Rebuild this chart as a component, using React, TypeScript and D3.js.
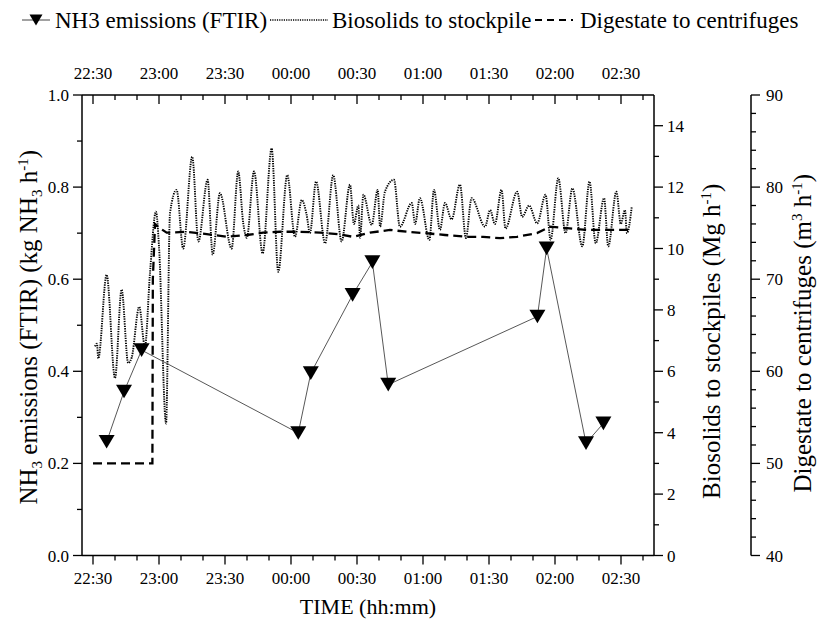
import React from "react";
import * as d3 from "d3";

// Times are minutes after 22:00
const nh3Times = [36.2, 44.1, 52.1, 123.3, 129.0, 148.0, 157.0, 164.2, 232.0, 236.2, 254.1, 262.0];
const nh3Values = [0.247, 0.356, 0.446, 0.266, 0.396, 0.566, 0.637, 0.371, 0.519, 0.667, 0.244, 0.287];

const bioTimes = [
  30.9, 31.8, 32.4, 36.2, 40.0, 43.0, 46.0, 47.6, 51.0, 53.6, 55.9, 58.6, 60.0, 63.2, 65.0, 68.0,
  71.0, 75.1, 77.9, 82.1, 84.4, 87.7, 93.0, 96.0, 98.3, 99.9, 103.2, 107.1, 111.2, 114.2, 118.3,
  121.8, 124.9, 127.1, 128.6, 131.4, 135.5, 139.2, 143.0, 146.8, 148.6, 150.6, 151.4, 152.9, 156.7,
  159.4, 160.5, 162.7, 166.8, 169.5, 174.9, 176.4, 178.6, 182.9, 185.0, 187.7, 190.0, 193.0, 196.8,
  199.5, 202.1, 208.2, 210.5, 212.7, 215.7, 217.5, 222.8, 225.1, 228.2, 231.9, 235.7, 238.0, 241.5,
  244.8, 247.9, 252.4, 255.7, 258.5, 262.3, 264.2, 267.9, 269.9, 271.8, 272.7, 274.9,
];
const bioValues = [
  6.81, 6.9, 6.42, 9.14, 5.78, 8.66, 6.27, 6.45, 8.1, 6.81, 9.2, 11.2, 10.07, 4.3, 11.15, 11.91,
  10.0, 12.99, 10.23, 12.24, 9.8, 11.8, 10.0, 12.51, 10.82, 10.35, 12.51, 9.84, 13.26, 9.24, 12.39,
  10.38, 11.58, 11.1, 10.5, 12.18, 10.17, 12.39, 10.23, 12.08, 10.8, 11.4, 10.35, 11.75, 10.77,
  11.91, 10.71, 11.85, 12.24, 10.71, 11.48, 10.8, 11.64, 10.28, 11.91, 10.61, 11.48, 10.95, 12.08,
  10.34, 11.64, 10.71, 11.25, 10.8, 11.91, 10.65, 11.85, 11.03, 11.4, 10.82, 11.75, 10.28, 12.29,
  10.5, 11.96, 10.07, 12.18, 10.17, 11.64, 10.07, 11.85, 10.8, 11.25, 10.5, 11.37,
];

const digTimes = [
  30, 57, 57.2, 58.2, 60, 63.5, 72.6, 81.7, 90.8, 99.9, 107.3, 115, 124.1, 133.2, 141.4, 148.2,
  155.9, 165, 172.7, 180.9, 190, 200, 207.3, 215, 222.7, 231.8, 237.7, 245.5, 254.5, 261.8, 269.5, 275,
];
const digValues = [
  50, 50, 70, 76, 75.6, 75.05, 75.15, 74.9, 74.6, 74.8, 75.05, 75.15, 75.15, 75.05, 74.9, 74.6,
  75.05, 75.35, 75.15, 75.0, 74.8, 74.6, 74.6, 74.45, 74.6, 75.0, 75.7, 75.55, 75.35, 75.35, 75.35, 75.35,
];

const timeMajor = [30, 60, 90, 120, 150, 180, 210, 240, 270];
const timeMinor = d3.range(30, 281, 10);
const nh3Major = [0, 0.2, 0.4, 0.6, 0.8, 1.0];
const nh3Minor = d3.range(0, 1.001, 0.1);
const bioMajor = [0, 2, 4, 6, 8, 10, 12, 14];
const bioMinor = [1, 3, 5, 7, 9, 11, 13];
const digMajor = [40, 50, 60, 70, 80, 90];
const digMinor = d3.range(40, 90.1, 2);

const FONT = "Liberation Serif, serif";

const fmtTime = (m: number) => {
  const h = (22 + Math.floor(m / 60)) % 24;
  const mm = Math.round(m % 60);
  return `${String(h).padStart(2, "0")}:${String(mm).padStart(2, "0")}`;
};

export default function App() {
  const W = 817, H = 622;
  const L = 82, R = 654, T = 95, B = 555.5;
  const x = d3.scaleLinear().domain([25, 285]).range([L, R]);
  const yN = d3.scaleLinear().domain([0, 1]).range([B, T]);
  const yB = d3.scaleLinear().domain([0, 15]).range([B, T]);
  const yD = d3.scaleLinear().domain([40, 90]).range([B, T]);
  const AX2 = 751;

  const bioLine = d3
    .line<number>()
    .x((_, i) => x(bioTimes[i]))
    .y((d) => yB(d))
    .curve(d3.curveMonotoneX)(bioValues) as string;
  const digLine = d3
    .line<number>()
    .x((_, i) => x(digTimes[i]))
    .y((d) => yD(d))(digValues) as string;
  const nh3Line = d3
    .line<number>()
    .x((_, i) => x(nh3Times[i]))
    .y((d) => yN(d))(nh3Values) as string;

  const tri = (cx: number, cy: number, s: number) =>
    `M${cx - s},${cy - s * 0.85}L${cx + s},${cy - s * 0.85}L${cx},${cy + s * 0.85}Z`;

  const isMaj = (v: number) => timeMajor.some((m) => Math.abs(m - v) < 1e-6);
  const near = (arr: number[], v: number) => arr.some((m) => Math.abs(m - v) < 1e-6);
  const TITLE = 25;
  const SUP = 15;

  return (
    <svg width={W} height={H} style={{ display: "block", position: "absolute", left: 0, top: 0, background: "#fff" }}>
      {/* Legend */}
      <line x1={22} x2={50} y1={20} y2={20} stroke="#444" strokeWidth={1} />
      <path d={tri(36, 20, 6.5)} fill="#000" />
      <text x={55} y={28} fontSize={23} fontFamily={FONT}>NH3 emissions (FTIR)</text>
      <line x1={270} x2={328} y1={20} y2={20} stroke="#000" strokeWidth={1.6} strokeDasharray="1.2,1.1" />
      <text x={332} y={28} fontSize={23} fontFamily={FONT}>Biosolids to stockpile</text>
      <line x1={535} x2={573} y1={20} y2={20} stroke="#000" strokeWidth={2.2} strokeDasharray="7,5" />
      <text x={580} y={28} fontSize={23} fontFamily={FONT}>Digestate to centrifuges</text>

      {/* Data */}
      <path d={digLine} fill="none" stroke="#000" strokeWidth={2.3} strokeDasharray="9,5" />
      <path d={bioLine} fill="none" stroke="#000" strokeWidth={1.9} strokeDasharray="1.3,1.1" />
      <path d={nh3Line} fill="none" stroke="#444" strokeWidth={0.9} />
      {nh3Values.map((v, i) => (
        <path key={i} d={tri(x(nh3Times[i]), yN(v), 8)} fill="#000" />
      ))}

      {/* Frame */}
      <g stroke="#000" strokeWidth={1.5} fill="none">
        <line x1={L} x2={R} y1={T} y2={T} />
        <line x1={L} x2={R} y1={B} y2={B} />
        <line x1={L} x2={L} y1={T} y2={B} />
        <line x1={R} x2={R} y1={T} y2={B} />
        <line x1={AX2} x2={AX2} y1={T} y2={B} />
      </g>

      {/* Time ticks */}
      <g stroke="#000" strokeWidth={1.3}>
        {timeMinor.map((t) => {
          const len = isMaj(t) ? 9 : 5;
          return (
            <g key={t}>
              <line x1={x(t)} x2={x(t)} y1={B} y2={B + len} />
              <line x1={x(t)} x2={x(t)} y1={T} y2={T + len} />
            </g>
          );
        })}
      </g>
      {timeMajor.map((t) => (
        <text key={"b" + t} x={x(t)} y={584} fontSize={17} textAnchor="middle" fontFamily={FONT}>{fmtTime(t)}</text>
      ))}
      {timeMajor.map((t) => (
        <text key={"t" + t} x={x(t)} y={79} fontSize={17} textAnchor="middle" fontFamily={FONT}>{fmtTime(t)}</text>
      ))}
      <text x={(L + R) / 2} y={614} fontSize={22} textAnchor="middle" fontFamily={FONT}>TIME (hh:mm)</text>

      {/* Left axis */}
      <g stroke="#000" strokeWidth={1.3}>
        {nh3Minor.map((v) => (
          <line key={v} x1={L} x2={L - (near(nh3Major, Math.round(v * 10) / 10) ? 9 : 5)} y1={yN(v)} y2={yN(v)} />
        ))}
      </g>
      {nh3Major.map((v) => (
        <text key={v} x={69} y={yN(v) + 6} fontSize={17} textAnchor="end" fontFamily={FONT}>{v.toFixed(1)}</text>
      ))}
      <text transform={`translate(37,${(T + B) / 2 + 2}) rotate(-90)`} fontSize={TITLE} textAnchor="middle" fontFamily={FONT}>
        NH<tspan dy={5} fontSize={SUP}>3</tspan>
        <tspan dy={-5}> emissions (FTIR) (kg NH</tspan>
        <tspan dy={5} fontSize={SUP}>3</tspan>
        <tspan dy={-5}> h</tspan>
        <tspan dy={-9} fontSize={SUP}>-1</tspan>
        <tspan dy={9}>)</tspan>
      </text>

      {/* Biosolids axis */}
      <g stroke="#000" strokeWidth={1.3}>
        {bioMajor.map((v) => (
          <line key={"M" + v} x1={R} x2={R + 9} y1={yB(v)} y2={yB(v)} />
        ))}
        {bioMinor.map((v) => (
          <line key={"m" + v} x1={R} x2={R + 5} y1={yB(v)} y2={yB(v)} />
        ))}
      </g>
      {bioMajor.map((v) => (
        <text key={v} x={667} y={yB(v) + 6} fontSize={17} fontFamily={FONT}>{v}</text>
      ))}
      <text transform={`translate(720,${(T + B) / 2 + 16}) rotate(-90)`} fontSize={TITLE} textAnchor="middle" fontFamily={FONT}>
        Biosolids to stockpiles (Mg h
        <tspan dy={-9} fontSize={SUP}>-1</tspan>
        <tspan dy={9}>)</tspan>
      </text>

      {/* Digestate axis */}
      <g stroke="#000" strokeWidth={1.3}>
        {digMinor.map((v) => (
          <line key={v} x1={AX2} x2={AX2 + (near(digMajor, Math.round(v)) ? 9 : 5)} y1={yD(v)} y2={yD(v)} />
        ))}
      </g>
      {digMajor.map((v) => (
        <text key={v} x={766} y={yD(v) + 6} fontSize={17} fontFamily={FONT}>{v}</text>
      ))}
      <text transform={`translate(811,${(T + B) / 2 + 8}) rotate(-90)`} fontSize={TITLE} textAnchor="middle" fontFamily={FONT}>
        Digestate to centrifuges (m
        <tspan dy={-9} fontSize={SUP}>3</tspan>
        <tspan dy={9}> h</tspan>
        <tspan dy={-9} fontSize={SUP}>-1</tspan>
        <tspan dy={9}>)</tspan>
      </text>
    </svg>
  );
}
